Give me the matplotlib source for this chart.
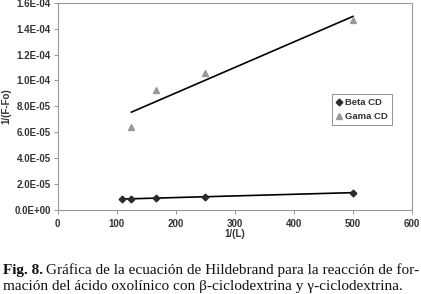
import numpy as np
import matplotlib
matplotlib.use("Agg")
import matplotlib.pyplot as plt
from matplotlib.ticker import FuncFormatter

beta_x = [110, 125, 166, 250, 500]
beta_y = [8.0e-6, 8.2e-6, 9.0e-6, 1.0e-5, 1.3e-5]
gama_x = [125, 166, 250, 500]
gama_y = [6.36e-5, 9.25e-5, 1.059e-4, 1.467e-4]
x_ticks = [0, 100, 200, 300, 400, 500, 600]
y_ticks = [0, 2e-5, 4e-5, 6e-5, 8e-5, 1e-4, 1.2e-4, 1.4e-4, 1.6e-4]

fig = plt.figure(figsize=(4.21, 2.94), dpi=100)
ax = fig.add_axes([57.5/421, 1-209.5/294, (412-57.5)/421, (209.5-3)/294])

tick_color = "#333333"
font = "Liberation Sans"
fs = 7.0

ax.plot(beta_x, beta_y, linestyle="none", marker="D", color="#2a2a2a", markersize=3.4, label="Beta CD", zorder=3)
ax.plot(gama_x, gama_y, linestyle="none", marker="^", color="#999999", markersize=5, label="Gama CD", zorder=3)

# linear trend lines
for xs, ys in [(beta_x, beta_y), (gama_x, gama_y)]:
    xs = np.array(xs, dtype=float)
    m, b = np.polyfit(xs, ys, 1)
    xl = np.array([xs.min(), xs.max()])
    ax.plot(xl, m*xl + b, color="black", linewidth=1.2, zorder=2)

ax.set_xlim(0, 600)
ax.set_ylim(0, 1.6e-4)
ax.set_xticks(x_ticks)
ax.set_yticks(y_ticks)
ax.yaxis.set_major_formatter(FuncFormatter(lambda v, pos: "%.1E" % v))

for lab in ax.get_xticklabels() + ax.get_yticklabels():
    lab.set_fontfamily(font)
    lab.set_fontweight("bold")
    lab.set_fontsize(fs)
    lab.set_color(tick_color)

ax.tick_params(axis="both", direction="out", length=3, width=0.6, color="#888888", pad=2)
ax.tick_params(axis="x", pad=4)
for sp in ax.spines.values():
    sp.set_color("#999999")
    sp.set_linewidth(0.8)

ax.set_xlabel("1/(L)", fontfamily=font, fontweight="bold", fontsize=fs, color=tick_color, labelpad=0)
ax.set_ylabel("1/(F-Fo)", fontfamily=font, fontweight="bold", fontsize=fs, color=tick_color, labelpad=2)

leg = ax.legend(loc="upper left", bbox_to_anchor=((332-57.5)/354.5, (209.5-94)/206.5),
                prop={"family": font, "weight": "bold", "size": 6.8},
                frameon=True, fancybox=False, borderpad=0.45, handlelength=0.6,
                handletextpad=0.35, labelspacing=0.5, borderaxespad=0)
leg.get_frame().set_edgecolor("#777777")
leg.get_frame().set_linewidth(0.7)
for t in leg.get_texts():
    t.set_color(tick_color)

serif = "Liberation Serif"
cfs = 11
t1 = fig.text(3/421, 1-274/294, "Fig. 8.", fontfamily=serif, fontweight="bold", fontsize=cfs, color="#111111", va="baseline")
fig.canvas.draw()
bb = t1.get_window_extent(renderer=fig.canvas.get_renderer())
fig.text((bb.x1 + 3.5)/421, 1-274/294, "Gráfica de la ecuación de Hildebrand para la reacción de for-",
         fontfamily=serif, fontsize=cfs, color="#111111", va="baseline")
fig.text(3/421, 1-290/294, "mación del ácido oxolínico con β-ciclodextrina y γ-ciclodextrina.",
         fontfamily=serif, fontsize=cfs, color="#111111", va="baseline")

fig.savefig("out.png", dpi=100)
